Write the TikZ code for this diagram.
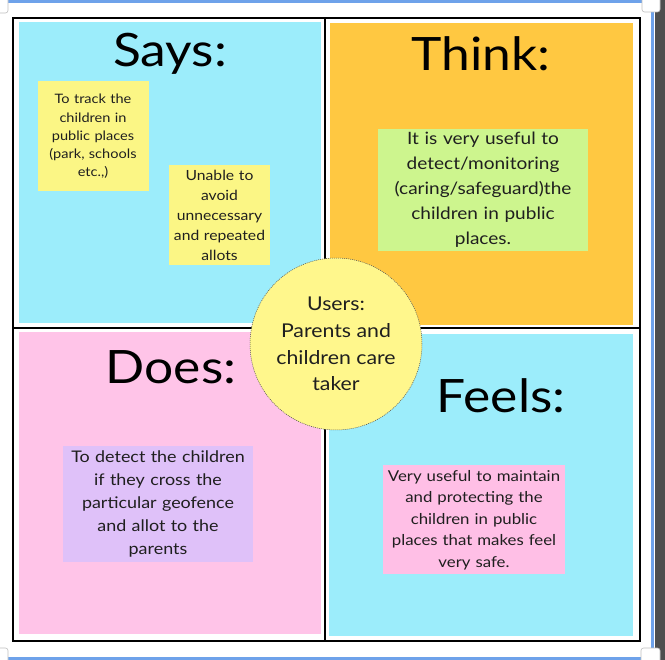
\documentclass[tikz,border=0pt]{standalone}
\usepackage{fontspec}
\setmainfont{Lato}[FakeStretch=1.12]
\definecolor{skycyan}{HTML}{9CEDFB}
\definecolor{warmorange}{HTML}{FFC841}
\definecolor{softpink}{HTML}{FFC4E8}
\definecolor{noteyellow}{HTML}{FBF685}
\definecolor{notegreen}{HTML}{CDF58E}
\definecolor{notepurple}{HTML}{DFC1F9}
\definecolor{notepink}{HTML}{FFBFE6}
\definecolor{usersyellow}{HTML}{FFF78C}
\definecolor{selblue}{HTML}{6EA2EA}
\definecolor{sidegray}{HTML}{4E4E4E}
\begin{document}
\begin{tikzpicture}[x=1pt,y=-1pt,
  quadtitle/.style={font=\fontsize{46}{50}\selectfont, text=black, inner sep=0pt},
  sticky/.style={align=center, inner sep=0pt, text=black!88},
  handle/.style={fill=white, draw=black!25, line width=0.6pt, rounded corners=2.5pt}]
\useasboundingbox (0,0) rectangle (665,660);
\fill[white] (0,0) rectangle (665,660);

% selection frame around the canvas
\fill[sidegray] (655,0) rectangle (665,660);
\fill[selblue] (8,0) rectangle (652,3);
\fill[selblue] (8,657) rectangle (652,660);
\fill[selblue] (651,8) rectangle (654,652);
\draw[handle] (-4,-4) rectangle (8,13);
\draw[handle] (642,-4) rectangle (660,12);
\draw[handle] (-4,648) rectangle (8,664);
\draw[handle] (641,648) rectangle (660,664);

% quadrant backgrounds
\fill[skycyan] (19,22) rectangle (321,323);
\fill[warmorange] (330,23) rectangle (633,325);
\fill[softpink] (19,332) rectangle (321,634);
\fill[skycyan] (329,334) rectangle (633,636);

% grid lines
\draw[line width=2pt] (13,18) rectangle (640,641);
\draw[line width=2pt] (325,18) -- (325,641);
\draw[line width=2pt] (13,328) -- (640,328);

% quadrant titles
\node[quadtitle] (says) at (170,54) {Says:};
\node[quadtitle] (think) at (481,54) {Think:};
\node[quadtitle] (does) at (171,367) {Does:};
\node[quadtitle] (feels) at (501,396) {Feels:};

% sticky notes
\node[sticky, fill=noteyellow, minimum width=111pt, minimum height=110pt, text width=108pt,
  font=\fontsize{13}{18.3}\selectfont] (track) at (93,136.5)
  {To track the\\children in\\public places\\(park, schools\\etc.,)};
\node[sticky, fill=noteyellow, minimum width=101pt, minimum height=100pt, text width=100pt,
  font=\fontsize{14}{20}\selectfont] (unable) at (219.5,215.5)
  {Unable to\\avoid\\unnecessary\\and repeated\\allots};
\node[sticky, fill=notegreen, minimum width=210pt, minimum height=122pt, text width=208pt,
  font=\fontsize{17}{25}\selectfont] (useful) at (483,190)
  {It is very useful to\\detect/monitoring\\(caring/safeguard)the\\children in public\\places.};
\node[sticky, fill=notepurple, minimum width=190pt, minimum height=116pt, text width=188pt,
  font=\fontsize{16}{22.8}\selectfont] (detect) at (158,504)
  {To detect the children\\if they cross the\\particular geofence\\and allot to the\\parents};
\node[sticky, fill=notepink, minimum width=182pt, minimum height=109pt, text width=182pt,
  font=\fontsize{15}{21.4}\selectfont] (safe) at (474,520)
  {Very useful to maintain\\and protecting the\\children in public\\places that makes feel\\very safe.};

% central users circle
\node[circle, fill=usersyellow, draw=black!70, dash pattern=on 1pt off 1pt, line width=0.5pt,
  minimum size=172pt, align=center, inner sep=0pt, text=black!88,
  font=\fontsize{19}{26.8}\selectfont] (users) at (336,344)
  {Users:\\Parents and\\children care\\taker};
\end{tikzpicture}
\end{document}
